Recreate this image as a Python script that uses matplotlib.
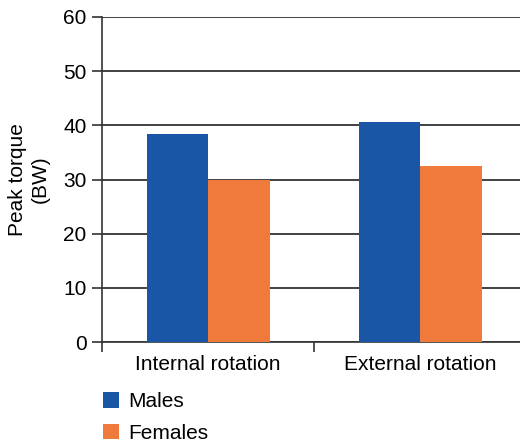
import matplotlib
matplotlib.use("Agg")
import matplotlib.pyplot as plt
import numpy as np

# data
categories = ["Internal rotation", "External rotation"]
males = [38.4, 40.6]
females = [30.0, 32.5]
yticks = [0, 10, 20, 30, 40, 50, 60]

BLUE = "#1a56a6"
ORANGE = "#f07a3c"

plt.rcParams['font.family'] = ['Liberation Sans', 'DejaVu Sans']

fig = plt.figure(figsize=(5.2, 4.42), dpi=100)
ax = fig.add_axes([102/520, 100/442, 420/520, 325/442])

x = np.arange(len(categories))
w = 0.29
ax.bar(x - w/2, males, w, color=BLUE, label="Males", zorder=3)
ax.bar(x + w/2, females, w, color=ORANGE, label="Females", zorder=3)

ax.set_ylim(0, 60)
ax.set_xlim(-0.5, 1.48)
ax.set_yticks(yticks)
ax.yaxis.grid(True, color="#333333", linewidth=1.3, zorder=0)
ax.set_axisbelow(True)

# category labels centred, tick marks at the boundaries
ax.set_xticks([-0.5, 0.5])
ax.set_xticklabels([])
ax.set_xticks(x, minor=True)
ax.set_xticklabels(categories, minor=True, fontsize=15)
ax.tick_params(axis="x", which="minor", length=0, pad=9)
ax.tick_params(axis="x", which="major", length=7, width=1.2, color="#333333")
ax.tick_params(axis="y", length=7, width=1.2, color="#333333", labelsize=15, pad=4)

for s in ["top", "right"]:
    ax.spines[s].set_visible(False)
for s in ["left", "bottom"]:
    ax.spines[s].set_color("#333333")
    ax.spines[s].set_linewidth(1.2)

ax.set_ylabel("Peak torque\n(BW)", fontsize=15, labelpad=10, linespacing=1.2)

fig.legend(loc="upper left", bbox_to_anchor=(95/520, 1 - 384/442), frameon=False,
           fontsize=15, handlelength=0.75, handleheight=0.75, handletextpad=0.45,
           labelspacing=0.6, borderaxespad=0)

fig.savefig("out.png", dpi=100)
